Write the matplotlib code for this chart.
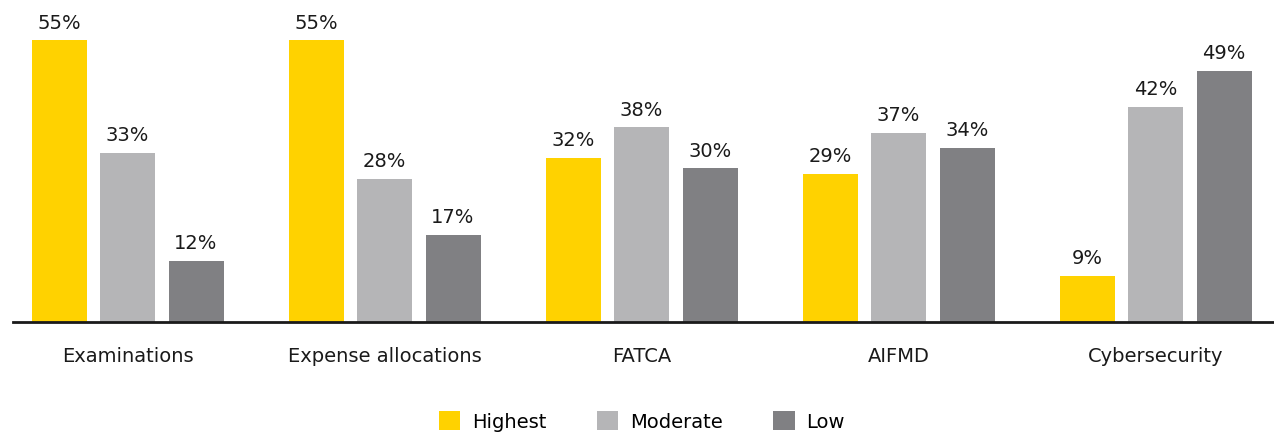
import numpy as np
import matplotlib.pyplot as plt
from matplotlib.patches import Patch

categories = ['Examinations', 'Expense allocations', 'FATCA', 'AIFMD', 'Cybersecurity']
highest = [55, 55, 32, 29, 9]
moderate = [33, 28, 38, 37, 42]
low = [12, 17, 30, 34, 49]

series = [('Highest', highest, '#FFD200'),
          ('Moderate', moderate, '#B5B5B7'),
          ('Low', low, '#808083')]

fig = plt.figure(figsize=(12.74, 4.35), dpi=100)
ax = fig.add_axes([13 / 1274, 112 / 435, 1261 / 1274, 307.2 / 435])

step = 257
offset = 68.5
width = 55
x = np.arange(len(categories)) * step

for i, (name, vals, color) in enumerate(series):
    pos = x + (i - 1) * offset
    ax.bar(pos, vals, width=width, color=color, label=name)
    for px, v in zip(pos, vals):
        ax.text(px, v + 1.7, f'{v}%', ha='center', va='bottom', fontsize=14, color='#1a1a1a')

ax.set_xlim(-114.5, x[-1] + 1146.5 - 4 * step)
ax.set_ylim(0, 60)
ax.set_xticks(x)
ax.set_xticklabels(categories, fontsize=14, color='#1a1a1a')
ax.tick_params(axis='x', length=0, pad=17)
ax.set_yticks([])
for s in ['top', 'right', 'left']:
    ax.spines[s].set_visible(False)
ax.spines['bottom'].set_linewidth(2)
ax.spines['bottom'].set_color('#1a1a1a')

handles = [Patch(facecolor=c, label=n) for n, _, c in series]
fig.legend(handles=handles, loc='center', bbox_to_anchor=(642 / 1274, 1 - 422 / 435),
           ncol=3, frameon=False, fontsize=14, handlelength=1.1, handleheight=1.1,
           columnspacing=2.6, handletextpad=0.6)

plt.savefig('out.png', dpi=100)
plt.close()
